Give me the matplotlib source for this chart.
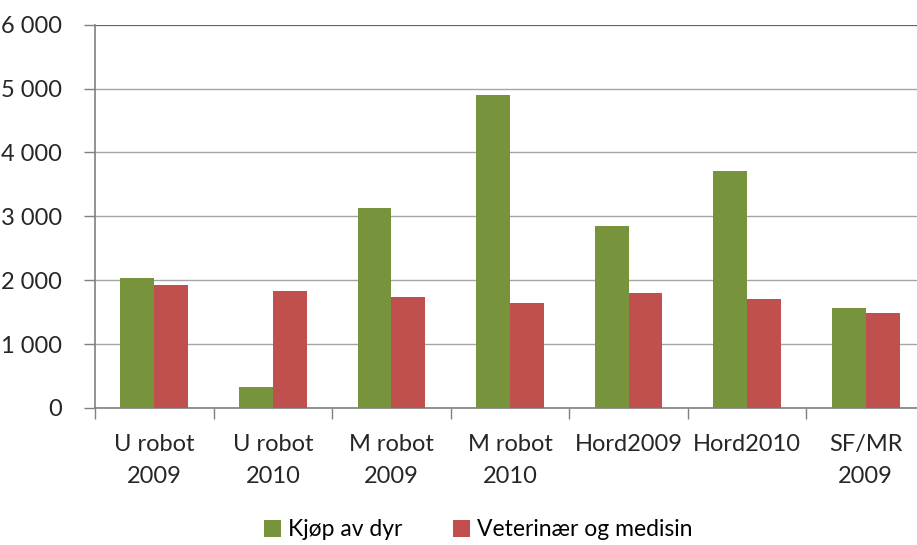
import numpy as np
import matplotlib.pyplot as plt
from matplotlib.ticker import FuncFormatter

# data
categories = ["U robot\n2009", "U robot\n2010", "M robot\n2009", "M robot\n2010",
              "Hord2009", "Hord2010", "SF/MR\n2009"]
kjop = [2040, 325, 3130, 4900, 2850, 3710, 1560]
veterinaer = [1930, 1825, 1740, 1640, 1800, 1700, 1480]
series_names = ["Kjøp av dyr", "Veterinær og medisin"]

green = "#77933C"
red = "#C0504D"

plt.rcParams['font.family'] = ['Lato', 'DejaVu Sans']

fig = plt.figure(figsize=(9.17, 5.45), dpi=100)
# plot area runs a bit past the right edge, as in the cropped reference
ax = fig.add_axes([95 / 917, 137 / 545, 830 / 917, 383.3 / 545])

x = np.arange(len(categories))
w = 0.285
ax.bar(x - w / 2, kjop, w, color=green, label=series_names[0], zorder=3)
ax.bar(x + w / 2, veterinaer, w, color=red, label=series_names[1], zorder=3)

ax.set_xlim(-0.5, len(categories) - 0.5)
ax.set_ylim(0, 6000)
ax.set_yticks(np.arange(0, 6001, 1000))
ax.yaxis.set_major_formatter(FuncFormatter(lambda v, p: f"{int(v):,}".replace(",", " ")))
ax.yaxis.grid(True, color="#A6A6A6", linewidth=1.0, zorder=0)
ax.axhline(6000, color="#595959", linewidth=1.2, zorder=2)

ax.set_xticks(x)
ax.set_xticklabels(categories)
ax.set_xticks(np.arange(-0.5, len(categories)), minor=True)
ax.tick_params(axis="x", which="major", length=0, pad=19, labelsize=17,
               labelcolor="#262626")
ax.tick_params(axis="x", which="minor", length=8, color="#808080", width=1)
ax.tick_params(axis="y", length=8, color="#808080", width=1, pad=16,
               labelsize=17, labelcolor="#262626")
for lbl in ax.get_xticklabels():
    lbl.set_linespacing(1.6)

for side in ["top", "right"]:
    ax.spines[side].set_visible(False)
for side in ["left", "bottom"]:
    ax.spines[side].set_color("#808080")
    ax.spines[side].set_linewidth(1.2)

fig.legend(loc="center", bbox_to_anchor=(478 / 917, 1 - 530 / 545), ncol=2,
           frameon=False, fontsize=16.5, handlelength=0.75, handleheight=0.75,
           handletextpad=0.3, columnspacing=2.2)

fig.savefig("out.png", dpi=100)
